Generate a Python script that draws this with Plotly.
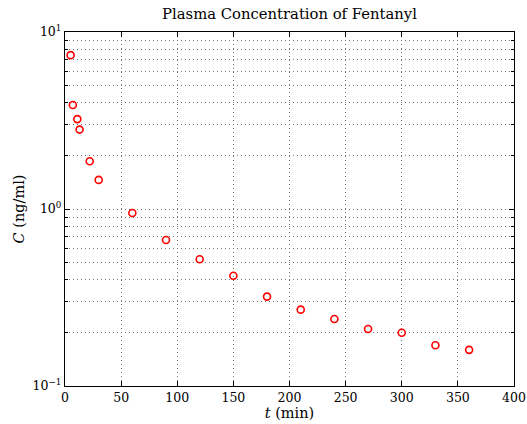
import plotly.graph_objects as go

t_min = [5, 7, 11, 13, 22, 30, 60, 90, 120, 150, 180, 210, 240, 270, 300, 330, 360]
conc = [7.4, 3.87, 3.22, 2.81, 1.86, 1.46, 0.95, 0.668, 0.52, 0.42, 0.32, 0.27, 0.239, 0.21, 0.20, 0.17, 0.16]
x_ticks = [0, 50, 100, 150, 200, 250, 300, 350, 400]
y_ticks = [0.1, 1, 10]
y_tick_labels = ["10<sup>−1</sup>", "10<sup>0</sup>", "10<sup>1</sup>"]
y_minor = [0.2, 0.3, 0.4, 0.5, 0.6, 0.7, 0.8, 0.9, 2, 3, 4, 5, 6, 7, 8, 9]

font = "DejaVu Serif, Liberation Serif, serif"
grid = dict(showgrid=True, gridcolor="#777", griddash="1px,3px", gridwidth=1)

fig = go.Figure(go.Scatter(
    x=t_min, y=conc, mode="markers",
    marker=dict(symbol="circle-open", size=7, color="red", line=dict(width=1.6, color="red")),
))

fig.update_layout(
    width=527, height=424,
    margin=dict(l=65, r=13, t=32, b=38),
    paper_bgcolor="white", plot_bgcolor="white",
    showlegend=False,
    font=dict(family=font, size=13, color="black"),
    title=dict(text="Plasma Concentration of Fentanyl", x=289.5 / 527, xanchor="center",
               y=1 - 14 / 424, yanchor="middle", font=dict(size=14.8)),
)

fig.update_xaxes(
    range=[0, 400], tickvals=x_ticks, ticks="inside", ticklen=5, tickcolor="black",
    showline=True, linecolor="black", linewidth=1.2, mirror="allticks",
    zeroline=False, automargin=False,
    title=dict(text="<i>t</i> (min)", standoff=2, font=dict(size=14.5)),
    tickfont=dict(size=12.5),
    **grid,
)
fig.update_yaxes(
    type="log", range=[-1, 1], tickvals=y_ticks, ticktext=y_tick_labels,
    ticks="inside", ticklen=5, tickcolor="black",
    showline=True, linecolor="black", linewidth=1.2, mirror="allticks",
    zeroline=False, automargin=False,
    minor=dict(tickvals=y_minor, ticks="inside", ticklen=3, tickcolor="black",
               showgrid=True, gridcolor="#777", griddash="1px,3px", gridwidth=1),
    title=dict(text="<i>C</i> (ng/ml)", standoff=4, font=dict(size=14.5)),
    tickfont=dict(size=12.5),
    **grid,
)

fig.write_html("out.html")
